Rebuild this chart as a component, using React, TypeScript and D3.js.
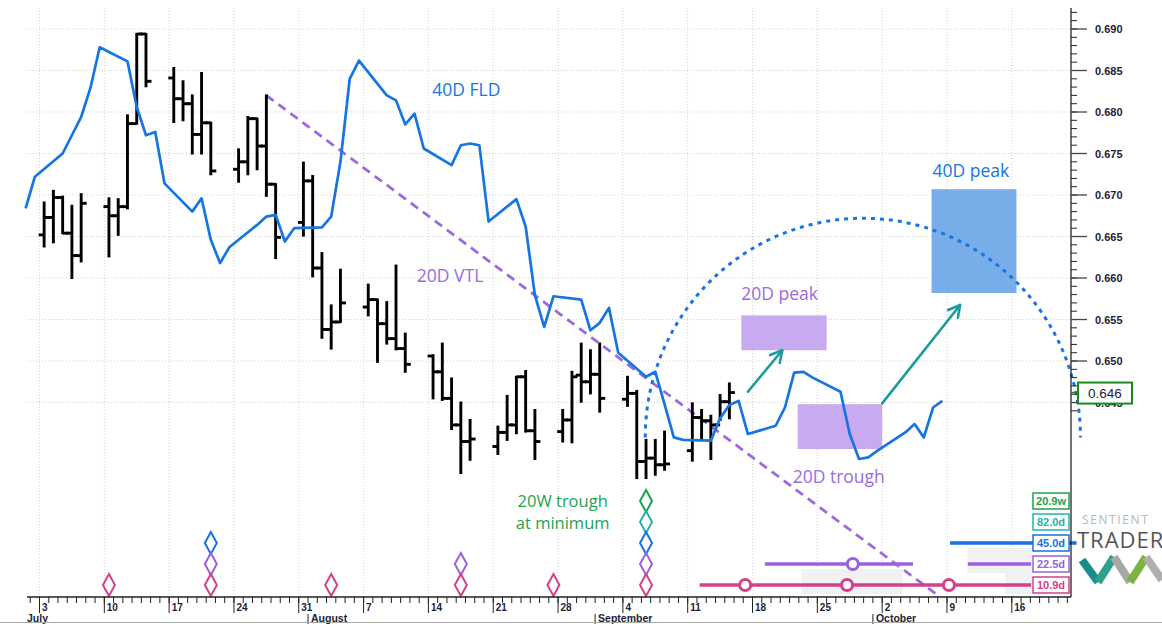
import React from "react";
import * as d3 from "d3";

const DAY = 86400000;

// daily bars
const barDates = [
  "2023-07-03", "2023-07-04", "2023-07-05", "2023-07-06", "2023-07-07",
  "2023-07-10", "2023-07-11", "2023-07-12", "2023-07-13", "2023-07-14",
  "2023-07-17", "2023-07-18", "2023-07-19", "2023-07-20", "2023-07-21",
  "2023-07-24", "2023-07-25", "2023-07-26", "2023-07-27", "2023-07-28",
  "2023-07-31", "2023-08-01", "2023-08-02", "2023-08-03", "2023-08-04",
  "2023-08-07", "2023-08-08", "2023-08-09", "2023-08-10", "2023-08-11",
  "2023-08-14", "2023-08-15", "2023-08-16", "2023-08-17", "2023-08-18",
  "2023-08-21", "2023-08-22", "2023-08-23", "2023-08-24", "2023-08-25",
  "2023-08-28", "2023-08-29", "2023-08-30", "2023-08-31", "2023-09-01",
  "2023-09-04", "2023-09-05", "2023-09-06", "2023-09-07", "2023-09-08",
  "2023-09-11", "2023-09-12", "2023-09-13", "2023-09-14", "2023-09-15",
];
const barOpen = [
  0.6652, 0.6673, 0.6697, 0.6654, 0.6627, 0.6686, 0.6675, 0.6686, 0.6786, 0.6894,
  0.6841, 0.6816, 0.681, 0.6773, 0.6787, 0.6731, 0.674, 0.6792, 0.6759, 0.6713,
  0.6667, 0.6717, 0.6612, 0.6538, 0.6547, 0.6565, 0.6574, 0.6545, 0.6527, 0.6515,
  0.6506, 0.6487, 0.6455, 0.6423, 0.6403, 0.6397, 0.6414, 0.6423, 0.6481, 0.6416,
  0.6415, 0.6429, 0.6483, 0.6475, 0.6484, 0.6454, 0.6461, 0.6379, 0.6383, 0.6375,
  0.6392, 0.6432, 0.6428, 0.6423, 0.6451,
];
const barHigh = [
  0.6691, 0.6705, 0.6698, 0.6687, 0.6701, 0.6696, 0.6695, 0.6796, 0.6894, 0.6894,
  0.6853, 0.6837, 0.682, 0.6847, 0.6787, 0.6755, 0.6794, 0.6792, 0.682, 0.6713,
  0.6739, 0.6723, 0.663, 0.6567, 0.661, 0.6592, 0.6574, 0.6571, 0.6615, 0.6533,
  0.6507, 0.6521, 0.6479, 0.645, 0.6429, 0.6421, 0.6458, 0.6481, 0.6488, 0.6441,
  0.6441, 0.6487, 0.6521, 0.6513, 0.6521, 0.6481, 0.6464, 0.6405, 0.6405, 0.6415,
  0.6449, 0.6441, 0.6434, 0.6459, 0.6473,
];
const barLow = [
  0.6638, 0.6643, 0.6654, 0.66, 0.662, 0.6626, 0.6652, 0.6684, 0.6786, 0.6831,
  0.6788, 0.679, 0.675, 0.675, 0.6725, 0.6716, 0.6725, 0.6731, 0.6699, 0.6624,
  0.6651, 0.6602, 0.6528, 0.6515, 0.6547, 0.6555, 0.6499, 0.6521, 0.6514, 0.6487,
  0.6455, 0.6453, 0.6418, 0.6365, 0.6381, 0.6388, 0.6405, 0.6413, 0.6415, 0.6382,
  0.6403, 0.6402, 0.6451, 0.6461, 0.6439, 0.6446, 0.6359, 0.6359, 0.6363, 0.6369,
  0.638, 0.6406, 0.6382, 0.6429, 0.6431,
];
const barClose = [
  0.6673, 0.6697, 0.6654, 0.6627, 0.669, 0.6675, 0.6686, 0.6786, 0.6894, 0.6837,
  0.6816, 0.681, 0.6773, 0.6787, 0.6729, 0.674, 0.6792, 0.6759, 0.6713, 0.6649,
  0.6717, 0.6612, 0.6538, 0.6547, 0.657, 0.6574, 0.6545, 0.6527, 0.6515, 0.6496,
  0.6487, 0.6455, 0.6423, 0.6403, 0.6406, 0.6414, 0.6423, 0.6481, 0.6416, 0.6403,
  0.6429, 0.6481, 0.6475, 0.6484, 0.6455, 0.6461, 0.6379, 0.6383, 0.6375, 0.6376,
  0.6432, 0.6428, 0.6423, 0.6451, 0.6462,
];

// 40D FLD
const fldDates = [
  "2023-07-01", "2023-07-02", "2023-07-05", "2023-07-06", "2023-07-07", "2023-07-08", "2023-07-09",
  "2023-07-12", "2023-07-13", "2023-07-14", "2023-07-15", "2023-07-16",
  "2023-07-19", "2023-07-20", "2023-07-21", "2023-07-22", "2023-07-23",
  "2023-07-26", "2023-07-27", "2023-07-28", "2023-07-29", "2023-07-30",
  "2023-08-02", "2023-08-03", "2023-08-04", "2023-08-05", "2023-08-06",
  "2023-08-09", "2023-08-10", "2023-08-11", "2023-08-12", "2023-08-13",
  "2023-08-16", "2023-08-17", "2023-08-18", "2023-08-19", "2023-08-20",
  "2023-08-23", "2023-08-24", "2023-08-25", "2023-08-26", "2023-08-27",
  "2023-08-30", "2023-08-31", "2023-09-01", "2023-09-02", "2023-09-03",
  "2023-09-06", "2023-09-07", "2023-09-08", "2023-09-09", "2023-09-10",
  "2023-09-13", "2023-09-14", "2023-09-15", "2023-09-16", "2023-09-17",
  "2023-09-20", "2023-09-21", "2023-09-22", "2023-09-23", "2023-09-24",
  "2023-09-27", "2023-09-28", "2023-09-29", "2023-09-30", "2023-10-01",
  "2023-10-04", "2023-10-05", "2023-10-06", "2023-10-07", "2023-10-08",
];
const fldValues = [
  0.6684, 0.6722, 0.675, 0.6772, 0.6794, 0.6829, 0.6878,
  0.6861, 0.6806, 0.6772, 0.6776, 0.6714,
  0.668, 0.6696, 0.6646, 0.6618, 0.6637,
  0.6664, 0.6674, 0.6676, 0.6644, 0.666,
  0.6661, 0.6674, 0.674, 0.684, 0.6862,
  0.682, 0.6814, 0.6785, 0.6798, 0.6756,
  0.6736, 0.676, 0.6762, 0.676, 0.6668,
  0.6695, 0.6662, 0.6579, 0.6541, 0.6578,
  0.6574, 0.6537, 0.6546, 0.6564, 0.651,
  0.6481, 0.6487, 0.6448, 0.6408, 0.6405,
  0.6404, 0.6431, 0.6447, 0.6452, 0.6412,
  0.6422, 0.6444, 0.6486, 0.6487, 0.648,
  0.6463, 0.6412, 0.6382, 0.6384, 0.6392,
  0.6414, 0.6424, 0.6408, 0.6444, 0.6452,
];

// 20D VTL anchors (two highs)
const vtlDates = ["2023-07-27", "2023-09-01"];
const vtlValues = [0.682, 0.6521];

// projected 40D cycle arc
const arcDates = ["2023-09-06T10:00Z", "2023-10-23T10:00Z"];
const arcBase = 0.6408;
const arcTop = 0.6672;

// projection boxes
const boxNames = ["20D peak", "20D trough", "40D peak"];
const boxStart = ["2023-09-16T19:00Z", "2023-09-22T21:00Z", "2023-10-07T08:00Z"];
const boxEnd = ["2023-09-26T00:00Z", "2023-10-02T00:00Z", "2023-10-16T12:00Z"];
const boxHigh = [0.6555, 0.6448, 0.6707];
const boxLow = [0.6513, 0.6394, 0.6582];

const arrowFrom = [["2023-09-17T12:00Z", 0.6463], ["2023-10-02T00:00Z", 0.6449]];
const arrowTo = [["2023-09-21T05:00Z", 0.6513], ["2023-10-10T10:00Z", 0.65675]];

// cycle troughs
const cycleLabels = ["20.9w", "82.0d", "45.0d", "22.5d", "10.9d"];
const cycleColors = ["#1ea24c", "#22b3ad", "#1572e3", "#9a60df", "#d3418a"];
const cycleTroughs = [
  ["2023-09-06"],
  ["2023-09-06"],
  ["2023-07-21", "2023-09-06"],
  ["2023-07-21", "2023-08-17", "2023-09-06"],
  ["2023-07-10", "2023-07-21", "2023-08-03", "2023-08-17", "2023-08-27", "2023-09-06"],
];
const cycleSegments = [
  [],
  [],
  [["2023-10-09T08:00Z", "2023-10-23T00:00Z"]],
  [["2023-09-19T08:00Z", "2023-10-05T08:00Z"], ["2023-10-11T06:00Z", "2023-10-18T02:00Z"]],
  [["2023-09-12T07:00Z", "2023-10-18T02:00Z"]],
];
const cycleCircles = [
  [],
  [],
  [],
  ["2023-09-28T20:00Z"],
  ["2023-09-17T05:00Z", "2023-09-28T05:00Z", "2023-10-09T05:00Z"],
];
const windowRow = [4, 4, 3];
const windowStart = ["2023-09-23T07:00Z", "2023-10-15T07:00Z", "2023-10-11T05:00Z"];
const windowEnd = ["2023-10-04T05:00Z", "2023-10-18T05:00Z", "2023-10-18T05:00Z"];

const t = (s: string) => new Date(s.length === 10 ? s + "T00:00Z" : s);

export default function App() {
  const W = 1162;
  const H = 624;
  const plotL = 27;
  const plotR = 1071;
  const plotT = 8;
  const axisY = 597;

  const x = d3
    .scaleUtc()
    .domain([t("2023-07-03"), t("2023-10-23")])
    .range([39.5, 39.5 + 112 * 9.26]);
  const y = d3.scaleLinear().domain([0.62157, 0.69]).range([axisY, 29]);
  const xc = (s: string) => x(new Date(t(s).getTime() + DAY / 2));

  const sans = "'Open Sans', sans-serif";
  const axisFont = "'Liberation Sans', Arial, sans-serif";
  const purple = "#9b6ade";
  const blue = "#1675e0";

  const mondays = d3.utcMonday.range(t("2023-07-03"), t("2023-10-23"));
  const days = d3.utcDay.range(t("2023-07-02"), t("2023-10-23"));
  const months = [t("2023-08-01"), t("2023-09-01"), t("2023-10-01")];
  const majors = d3.range(645, 691, 5).map((v) => v / 1000);
  const minors = d3.range(644, 693).map((v) => v / 1000);

  const fldPath = d3
    .line<number>()
    .x((i) => xc(fldDates[i]))
    .y((i) => y(fldValues[i]))(d3.range(fldDates.length));

  // VTL extended to the time axis
  const v1x = xc(vtlDates[0]);
  const v1y = y(vtlValues[0]);
  const v2x = xc(vtlDates[1]);
  const v2y = y(vtlValues[1]);
  const slope = (v2y - v1y) / (v2x - v1x);
  const vEndX = v1x + (axisY - v1y) / slope;

  const ax0 = x(t(arcDates[0]));
  const ax1 = x(t(arcDates[1]));
  const ayb = y(arcBase);
  const ayt = y(arcTop);
  const arcPath = `M${ax0},${ayb} A${(ax1 - ax0) / 2},${ayb - ayt} 0 0 1 ${ax1},${ayb}`;

  const rowY = [501, 522, 543, 564, 585];

  const lastClose = barClose[barClose.length - 1];
  const lastY = y(lastClose);

  const diamond = (cx: number, cy: number) =>
    `M${cx},${cy - 11} L${cx + 6},${cy} L${cx},${cy + 11} L${cx - 6},${cy} Z`;

  return (
    <svg
      width={W}
      height={H}
      style={{ position: "absolute", left: 0, top: 0, display: "block", background: "#fff" }}
    >
      {/* grid */}
      {mondays.map((d, i) => (
        <line key={"vg" + i} x1={x(d)} x2={x(d)} y1={plotT} y2={axisY} stroke="#d2d2d2" strokeDasharray="1,2" />
      ))}
      {majors.map((v, i) => (
        <line key={"hg" + i} x1={plotL} x2={plotR} y1={y(v)} y2={y(v)} stroke="#d2d2d2" strokeDasharray="1,2" />
      ))}

      {/* trough windows */}
      {windowRow.map((r, i) => (
        <rect
          key={"win" + i}
          x={x(t(windowStart[i]))}
          y={rowY[r] - 16}
          width={x(t(windowEnd[i])) - x(t(windowStart[i]))}
          height={25}
          fill="#f1f1f1"
        />
      ))}

      {/* projection boxes */}
      {boxNames.map((n, i) => (
        <rect
          key={"box" + i}
          x={x(t(boxStart[i]))}
          y={y(boxHigh[i])}
          width={x(t(boxEnd[i])) - x(t(boxStart[i]))}
          height={y(boxLow[i]) - y(boxHigh[i])}
          fill={n.startsWith("40") ? "#77ade9" : "#c8aaf0"}
        />
      ))}

      {/* 20D VTL */}
      <line x1={v1x} y1={v1y} x2={vEndX} y2={axisY} stroke={purple} strokeWidth={2.8} strokeDasharray="9,6" />

      {/* price bars */}
      {barDates.map((d, i) => {
        const cx = xc(d);
        return (
          <g key={"bar" + i} stroke="#000" strokeWidth={2.9}>
            <line x1={cx} x2={cx} y1={y(barHigh[i]) - 1} y2={y(barLow[i]) + 1} />
            <line x1={cx - 5.5} x2={cx} y1={y(barOpen[i])} y2={y(barOpen[i])} />
            <line x1={cx} x2={cx + 5.5} y1={y(barClose[i])} y2={y(barClose[i])} />
          </g>
        );
      })}

      {/* 40D FLD */}
      <path d={fldPath || ""} fill="none" stroke={blue} strokeWidth={2.7} strokeLinejoin="round" />

      {/* projected arc */}
      <path d={arcPath} fill="none" stroke={blue} strokeWidth={3} strokeDasharray="4,5" />

      {/* arrows */}
      {arrowFrom.map((a, i) => {
        const x1 = x(t(a[0] as string));
        const y1 = y(a[1] as number);
        const x2 = x(t(arrowTo[i][0] as string));
        const y2 = y(arrowTo[i][1] as number);
        const ang = Math.atan2(y2 - y1, x2 - x1);
        const L = 13;
        const h1 = [x2 - L * Math.cos(ang - 0.5), y2 - L * Math.sin(ang - 0.5)];
        const h2 = [x2 - L * Math.cos(ang + 0.5), y2 - L * Math.sin(ang + 0.5)];
        return (
          <g key={"ar" + i} stroke="#1a9c9c" strokeWidth={2.6} fill="none" strokeLinecap="round">
            <line x1={x1} y1={y1} x2={x2} y2={y2} />
            <polyline points={`${h1[0]},${h1[1]} ${x2},${y2} ${h2[0]},${h2[1]}`} strokeLinejoin="round" />
          </g>
        );
      })}

      {/* annotations */}
      <g fontFamily={sans} fontSize={17.5}>
        <text x={xc("2023-08-13T22:00Z")} y={y(0.68193)} fill={blue}>40D FLD</text>
        <text x={x(t("2023-08-12T18:00Z"))} y={y(0.65952)} fill={purple}>20D VTL</text>
        <text x={x(t(boxStart[0]))} y={y(boxHigh[0]) - 15} fill={purple}>20D peak</text>
        <text x={x(t(boxStart[1])) - 5} y={y(boxLow[1]) + 34} fill={purple}>20D trough</text>
        <text x={x(t(boxStart[2])) + 1} y={y(boxHigh[2]) - 12} fill={blue}>40D peak</text>
      </g>
      <g fontFamily={sans} fontSize={16.5} fill="#1ea24c" textAnchor="middle">
        <text x={xc("2023-08-28")} y={507}>20W trough</text>
        <text x={xc("2023-08-28")} y={529}>at minimum</text>
      </g>

      {/* cycle rows */}
      {cycleLabels.map((lab, r) => (
        <g key={"cy" + r}>
          {cycleSegments[r].map((s, j) => (
            <line
              key={"seg" + j}
              x1={x(t(s[0]))}
              x2={x(t(s[1]))}
              y1={rowY[r]}
              y2={rowY[r]}
              stroke={cycleColors[r]}
              strokeWidth={3.5}
            />
          ))}
          {cycleCircles[r].map((c, j) => (
            <circle key={"cc" + j} cx={x(t(c))} cy={rowY[r]} r={5.5} fill="#fff" stroke={cycleColors[r]} strokeWidth={3} />
          ))}
          {cycleTroughs[r].map((d, j) => (
            <path key={"dm" + j} d={diamond(xc(d), rowY[r])} fill="#fff" fillOpacity={0} stroke={cycleColors[r]} strokeWidth={2} />
          ))}
          <rect x={plotR - 38} y={rowY[r] - 8} width={36} height={16} fill="#fff" stroke={cycleColors[r]} strokeWidth={1.5} />
          <text
            x={plotR - 20}
            y={rowY[r] + 4}
            textAnchor="middle"
            fontFamily={axisFont}
            fontWeight="bold"
            fontSize={11}
            fill={cycleColors[r]}
          >
            {lab}
          </text>
        </g>
      ))}

      {/* right price axis */}
      <line x1={plotR} x2={plotR} y1={plotT} y2={axisY} stroke="#111" strokeWidth={1.2} />
      {minors.map((v, i) => (
        <line key={"mt" + i} x1={plotR} x2={plotR + 6} y1={y(v)} y2={y(v)} stroke="#222" />
      ))}
      {majors.map((v, i) => (
        <g key={"mj" + i}>
          <line x1={plotR} x2={plotR + 16} y1={y(v)} y2={y(v)} stroke="#444" strokeWidth={1.3} />
          <text x={plotR + 24} y={y(v) + 4} fontFamily={axisFont} fontWeight="bold" fontSize={11} fill="#1c2238">
            {d3.format(".3f")(v)}
          </text>
        </g>
      ))}
      <line x1={plotR} x2={plotR + 8} y1={lastY} y2={lastY} stroke="#1a8a1a" strokeWidth={1.5} />
      <rect x={plotR + 7} y={lastY - 10} width={54} height={21} fill="#fff" stroke="#1a8a1a" strokeWidth={2} />
      <text x={plotR + 34} y={lastY + 5} textAnchor="middle" fontFamily={axisFont} fontSize={13.5} fill="#1c2238">
        {d3.format(".3f")(lastClose)}
      </text>

      {/* time axis */}
      <line x1={plotL} x2={plotR} y1={axisY} y2={axisY} stroke="#222" strokeWidth={1.3} />
      {days.map((d, i) => (
        <line key={"dt" + i} x1={x(d)} x2={x(d)} y1={axisY} y2={axisY + 6} stroke="#222" />
      ))}
      {mondays.map((d, i) => (
        <g key={"wk" + i}>
          <line x1={x(d)} x2={x(d)} y1={axisY} y2={axisY + 16} stroke="#222" />
          <text x={x(d) + 2.5} y={axisY + 14} fontFamily={axisFont} fontWeight="bold" fontSize={10} fill="#1c2238">
            {d.getUTCDate()}
          </text>
        </g>
      ))}
      <text x={plotL} y={axisY + 25} fontFamily={axisFont} fontWeight="bold" fontSize={10.5} fill="#1c2238">
        July
      </text>
      {months.map((d, i) => (
        <g key={"mo" + i}>
          <line x1={x(d)} x2={x(d)} y1={axisY + 17} y2={axisY + 27} stroke="#222" />
          <text x={x(d) + 3} y={axisY + 25} fontFamily={axisFont} fontWeight="bold" fontSize={10.5} fill="#1c2238">
            {d3.utcFormat("%B")(d)}
          </text>
        </g>
      ))}
      <line x1={0} x2={W} y1={622.5} y2={622.5} stroke="#aaa" />

      {/* logo */}
      <g>
        <text x={1082} y={524} fontFamily={sans} fontSize={12} letterSpacing={1.6} fill="#b8b8b8">
          SENTIENT
        </text>
        <text x={1077} y={548} fontFamily={sans} fontSize={22} letterSpacing={1} fill="#555">
          TRADER
        </text>
        <g strokeWidth={8} fill="none">
          <line x1={1082} y1={560} x2={1098} y2={582} stroke="#1a8c8c" />
          <line x1={1098} y1={582} x2={1114} y2={557} stroke="#2fa08e" />
          <line x1={1114} y1={557} x2={1130} y2={582} stroke="#a8a8a8" />
          <line x1={1130} y1={582} x2={1146} y2={557} stroke="#7cb342" />
          <line x1={1146} y1={557} x2={1162} y2={580} stroke="#b0b0b0" />
        </g>
      </g>
    </svg>
  );
}
